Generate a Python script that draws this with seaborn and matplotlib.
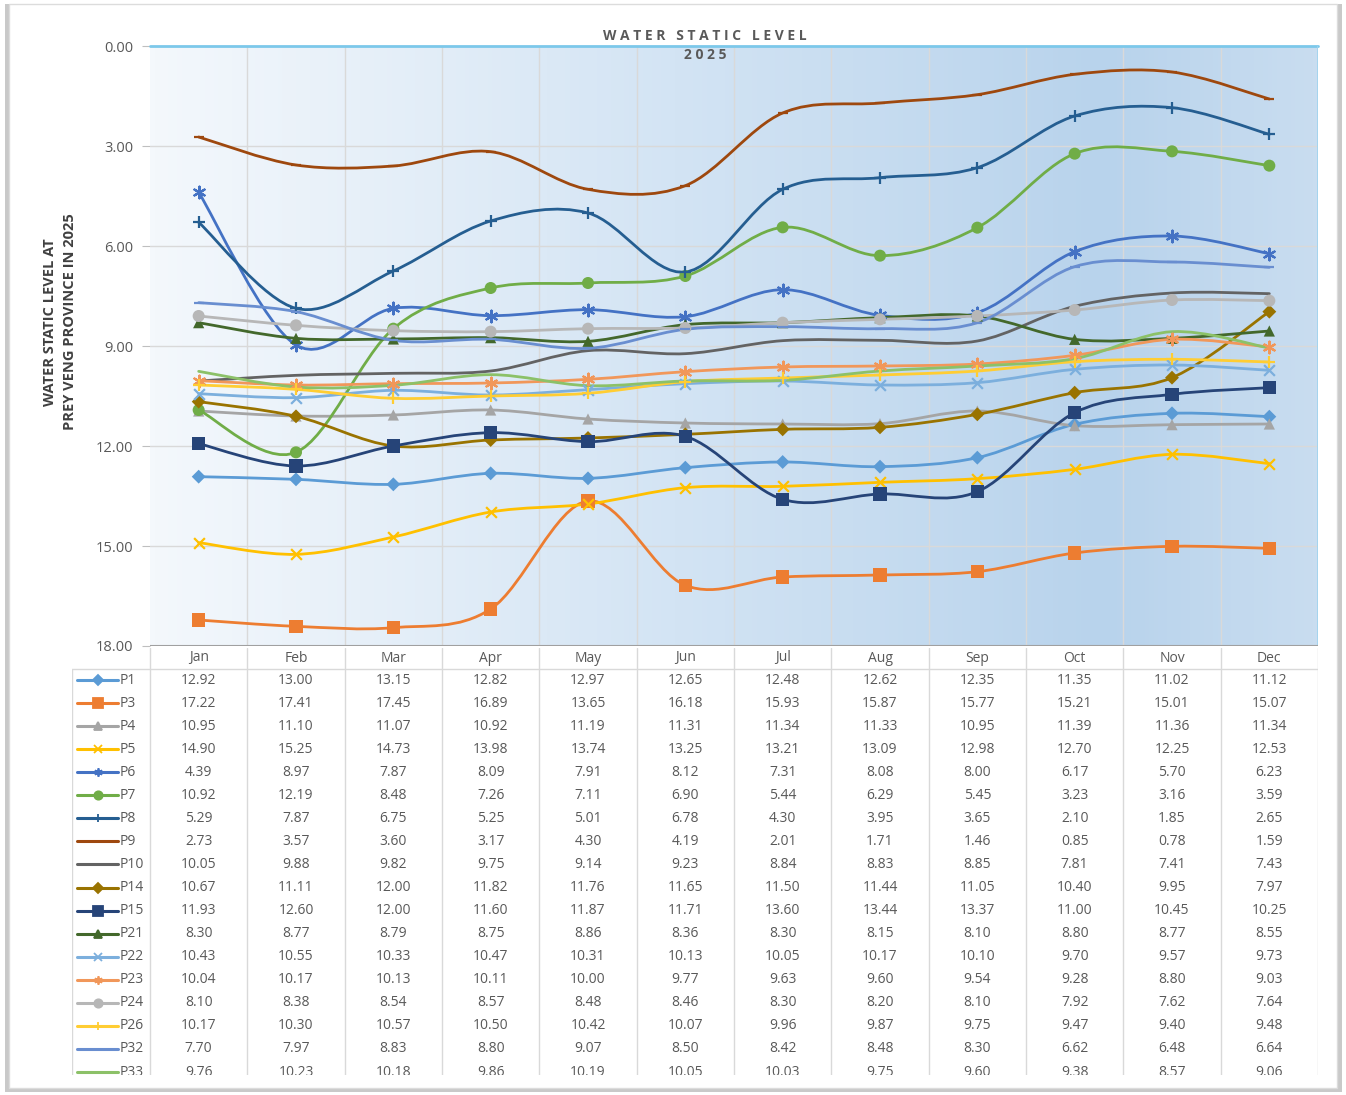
import numpy as np
import pandas as pd
import seaborn as sns
import matplotlib.pyplot as plt
from matplotlib.path import Path
from matplotlib.patches import PathPatch, Rectangle
from matplotlib.colors import LinearSegmentedColormap
from matplotlib.lines import Line2D

months = ['Jan', 'Feb', 'Mar', 'Apr', 'May', 'Jun', 'Jul', 'Aug', 'Sep', 'Oct', 'Nov', 'Dec']
wells = ['P1', 'P3', 'P4', 'P5', 'P6', 'P7', 'P8', 'P9', 'P10',
         'P14', 'P15', 'P21', 'P22', 'P23', 'P24', 'P26', 'P32', 'P33']

p1 = [12.92, 13.00, 13.15, 12.82, 12.97, 12.65, 12.48, 12.62, 12.35, 11.35, 11.02, 11.12]
p3 = [17.22, 17.41, 17.45, 16.89, 13.65, 16.18, 15.93, 15.87, 15.77, 15.21, 15.01, 15.07]
p4 = [10.95, 11.10, 11.07, 10.92, 11.19, 11.31, 11.34, 11.33, 10.95, 11.39, 11.36, 11.34]
p5 = [14.90, 15.25, 14.73, 13.98, 13.74, 13.25, 13.21, 13.09, 12.98, 12.70, 12.25, 12.53]
p6 = [4.39, 8.97, 7.87, 8.09, 7.91, 8.12, 7.31, 8.08, 8.00, 6.17, 5.70, 6.23]
p7 = [10.92, 12.19, 8.48, 7.26, 7.11, 6.90, 5.44, 6.29, 5.45, 3.23, 3.16, 3.59]
p8 = [5.29, 7.87, 6.75, 5.25, 5.01, 6.78, 4.30, 3.95, 3.65, 2.10, 1.85, 2.65]
p9 = [2.73, 3.57, 3.60, 3.17, 4.30, 4.19, 2.01, 1.71, 1.46, 0.85, 0.78, 1.59]
p10 = [10.05, 9.88, 9.82, 9.75, 9.14, 9.23, 8.84, 8.83, 8.85, 7.81, 7.41, 7.43]
p14 = [10.67, 11.11, 12.00, 11.82, 11.76, 11.65, 11.50, 11.44, 11.05, 10.40, 9.95, 7.97]
p15 = [11.93, 12.60, 12.00, 11.60, 11.87, 11.71, 13.60, 13.44, 13.37, 11.00, 10.45, 10.25]
p21 = [8.30, 8.77, 8.79, 8.75, 8.86, 8.36, 8.30, 8.15, 8.10, 8.80, 8.77, 8.55]
p22 = [10.43, 10.55, 10.33, 10.47, 10.31, 10.13, 10.05, 10.17, 10.10, 9.70, 9.57, 9.73]
p23 = [10.04, 10.17, 10.13, 10.11, 10.00, 9.77, 9.63, 9.60, 9.54, 9.28, 8.80, 9.03]
p24 = [8.10, 8.38, 8.54, 8.57, 8.48, 8.46, 8.30, 8.20, 8.10, 7.92, 7.62, 7.64]
p26 = [10.17, 10.30, 10.57, 10.50, 10.42, 10.07, 9.96, 9.87, 9.75, 9.47, 9.40, 9.48]
p32 = [7.70, 7.97, 8.83, 8.80, 9.07, 8.50, 8.42, 8.48, 8.30, 6.62, 6.48, 6.64]
p33 = [9.76, 10.23, 10.18, 9.86, 10.19, 10.05, 10.03, 9.75, 9.60, 9.38, 8.57, 9.06]

series = [p1, p3, p4, p5, p6, p7, p8, p9, p10, p14, p15, p21, p22, p23, p24, p26, p32, p33]

# cores e marcadores no estilo do Excel
colors = ['#5B9BD5', '#ED7D31', '#A5A5A5', '#FFC000', '#4472C4', '#70AD47', '#255E91', '#9E480E', '#636363',
          '#997300', '#264478', '#43682B', '#7CAFDD', '#F1975A', '#B7B7B7', '#FFCD33', '#698ED0', '#8CC168']
markers = ['D', 's', '^', 'x', (6, 2, 0), 'o', '+', '_', None,
           'D', 's', '^', 'x', (6, 2, 0), 'o', '+', '_', None]
msizes = {'D': 50, 's': 90, '^': 65, 'x': 60, 'o': 75, '+': 70, '_': 50}
leg_sizes = {'D': 5, 's': 6.5, '^': 5.5, 'x': 6, 'o': 6, '+': 6, '_': 5}

df = pd.DataFrame({w: v for w, v in zip(wells, series)}, index=months)
xs = np.arange(len(months))

W, H = 1346, 1095
fig = plt.figure(figsize=(W / 100, H / 100), dpi=100)
sns.set_style('white')
plt.rcParams['font.family'] = ['Open Sans', 'DejaVu Sans']

# moldura com sombra
fig.patches.append(Rectangle((5 / W, 3 / H), 1337 / W, 1088 / H, transform=fig.transFigure,
                             facecolor='#c9c9c9', edgecolor='none', zorder=-20))
fig.patches.append(Rectangle((9 / W, 7 / H), 1328 / W, 1084 / H, transform=fig.transFigure,
                             facecolor='white', edgecolor='#dcdcdc', lw=1, zorder=-19))

ax = fig.add_axes([150 / W, (H - 646) / H, 1168 / W, 600 / H])

# fundo em degradê
grad = LinearSegmentedColormap.from_list('g', [(0, '#F4F8FC'), (0.45, '#D3E4F4'),
                                               (0.82, '#B8D3EC'), (1, '#C9DDF0')])
ax.imshow(np.linspace(0, 1, 256)[None, :], cmap=grad, aspect='auto',
          extent=(-0.5, 11.5, 18, 0), zorder=0)


def smooth_path(x, y):
    # curva suavizada (Bezier) passando pelos pontos, como no Excel
    n = len(x)
    pts = np.column_stack([x, y])
    verts = [pts[0]]
    codes = [Path.MOVETO]
    for i in range(n - 1):
        p0 = pts[max(i - 1, 0)]
        p1 = pts[i]
        p2 = pts[i + 1]
        p3 = pts[min(i + 2, n - 1)]
        verts += [p1 + (p2 - p0) / 6, p2 - (p3 - p1) / 6, p2]
        codes += [Path.CURVE4] * 3
    return Path(verts, codes)


for w, c, m in zip(wells, colors, markers):
    ax.add_patch(PathPatch(smooth_path(xs, df[w].values), fill=False, edgecolor=c,
                           lw=2.0, zorder=3, capstyle='round'))
    if m is not None:
        filled = m in ('D', 's', '^', 'o')
        sns.scatterplot(x=xs, y=df[w].values, marker=m, color=c, ax=ax, zorder=4,
                        s=msizes.get(m, 70), linewidth=1.6 if not filled else 0,
                        edgecolor=c if not filled else 'none', legend=False)

ax.set_xlim(-0.5, 11.5)
ax.set_ylim(18, 0)
ax.set_yticks(np.arange(0, 19, 3))
ax.set_yticklabels([f'{v:.2f}' for v in np.arange(0, 19, 3)], fontsize=10.5, color='#595959')
ax.set_xticks([])
for v in np.arange(3, 18, 3):
    ax.axhline(v, color='#D9D9D9', lw=1, zorder=1)
for v in np.arange(0.5, 11.5, 1):
    ax.axvline(v, color='#D9D9D9', lw=1, zorder=1)
for s in ax.spines.values():
    s.set_visible(False)
ax.axhline(0, color='#7CC8EA', lw=2, zorder=5, clip_on=False)
ax.axvline(11.5, color='#9ED3EE', lw=1.2, zorder=5)
ax.tick_params(axis='y', length=6, color='#BFBFBF', pad=6, left=True)
ax.axhline(18, color='#A0A0A0', lw=1.5, zorder=5)

fig.text(60 / W, 1 - 322 / H, 'WATER STATIC LEVEL AT\nPREY VENG PROVINCE IN 2025', rotation=90,
         ha='center', va='center', fontsize=10.5, fontweight='bold', color='#404040', linespacing=1.5)
fig.text(705 / W, 1 - 36 / H, 'W A T E R   S T A T I C   L E V E L', ha='center', va='center',
         fontsize=10, fontweight='bold', color='#595959')
fig.text(705 / W, 1 - 55 / H, '2 0 2 5', ha='center', va='center',
         fontsize=10, fontweight='bold', color='#595959')

# tabela de dados abaixo do gráfico
tax = fig.add_axes([72 / W, (H - 1075) / H, 1246 / W, 427 / H])
left = -0.5 - 78 / (1168 / 12)
tax.set_xlim(left, 11.5)
tax.set_ylim(1075, 648)
tax.axis('off')

grid_c = '#D9D9D9'
for v in np.arange(0.5, 11.5, 1):
    tax.plot([v, v], [648, 1075], color=grid_c, lw=1)
tax.plot([-0.5, -0.5], [648, 1075], color=grid_c, lw=1)
tax.plot([11.5, 11.5], [648, 1075], color=grid_c, lw=1)
tax.plot([left + 0.005, left + 0.005], [669, 1075], color=grid_c, lw=1)
tax.plot([left, 11.5], [669, 669], color=grid_c, lw=1)

for i, mth in enumerate(months):
    tax.text(i, 658, mth, ha='center', va='center', fontsize=10, color='#595959')

for r, (w, c, m) in enumerate(zip(wells, colors, markers)):
    y = 680 + 23.06 * r
    x0 = left + 5 / 97.33
    x1 = left + 46 / 97.33
    tax.add_line(Line2D([x0, x1], [y, y], color=c, lw=2.2))
    if m is not None:
        tax.add_line(Line2D([(x0 + x1) / 2], [y], marker=m, color=c, markersize=leg_sizes.get(m, 6),
                            markeredgewidth=1.3, linestyle='none'))
    tax.text(left + 48 / 97.33, y, w, ha='left', va='center', fontsize=10, color='#595959', clip_on=True)
    for i, v in enumerate(df[w].values):
        tax.text(i, y, f'{v:.2f}', ha='center', va='center', fontsize=10, color='#595959', clip_on=True)

plt.savefig('out.png', dpi=100)
